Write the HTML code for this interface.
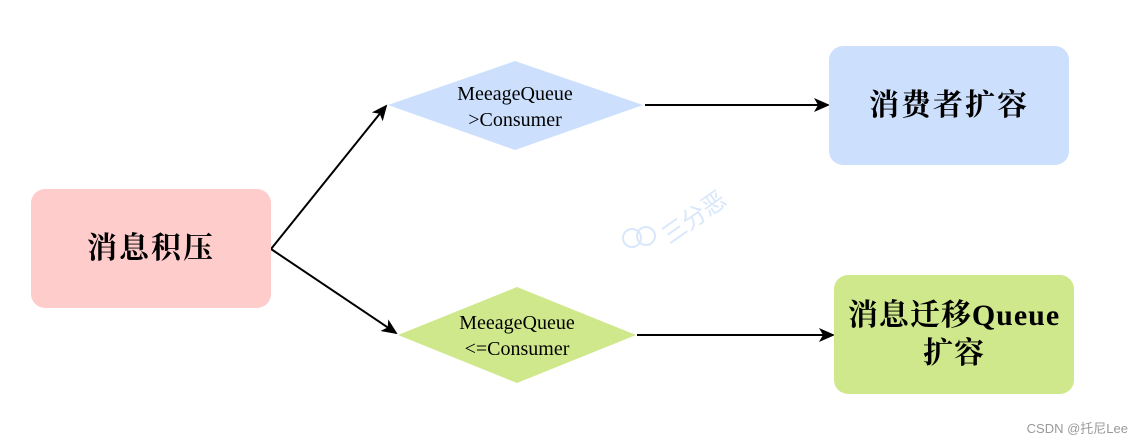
<!DOCTYPE html>
<html><head><meta charset="utf-8"><style>
body{margin:0;background:#fff;width:1138px;height:442px;overflow:hidden;position:relative;font-family:"Liberation Serif","Noto Serif CJK SC",serif}
.box{position:absolute;border-radius:14px;display:flex;align-items:center;justify-content:center;text-align:center;font-weight:bold;font-size:30px;letter-spacing:2px;color:#000;line-height:38px}
.t{position:absolute;text-align:center;font-size:20px;line-height:26px;width:200px}
</style></head><body>
<svg width="1138" height="442" style="position:absolute;left:0;top:0">
<defs><marker id="a" markerWidth="16" markerHeight="14" refX="14" refY="7" orient="auto" markerUnits="userSpaceOnUse"><path d="M0,0 L16,7 L0,14 L4,7z" fill="#000"/></marker></defs>
<polygon points="388,105 515,61 643,105 515,150" fill="#cce0fd"/>
<polygon points="398,335 517,287 636,335 517,383" fill="#cfe88c"/>
<g stroke="#000" stroke-width="2" fill="none">
<line x1="271" y1="249" x2="386" y2="106" marker-end="url(#a)"/>
<line x1="271" y1="249" x2="396" y2="333" marker-end="url(#a)"/>
<line x1="645" y1="105" x2="828" y2="105" marker-end="url(#a)"/>
<line x1="637" y1="335" x2="833" y2="335" marker-end="url(#a)"/>
</g>
<text x="660" y="235" transform="rotate(-35 680 225)" fill="#d8e8fa" font-size="24" font-family="Noto Sans CJK SC,sans-serif">三分恶</text>
<circle cx="632" cy="238" r="9" fill="none" stroke="#d8e8fa" stroke-width="2"/>
<circle cx="646" cy="236" r="9" fill="none" stroke="#d8e8fa" stroke-width="2"/>
</svg>
<div class="box" style="left:31px;top:189px;width:240px;height:119px;background:#ffcccc">消息积压</div>
<div class="box" style="left:829px;top:46px;width:240px;height:119px;background:#cce0fd">消费者扩容</div>
<div class="box" style="left:834px;top:275px;width:240px;height:119px;background:#cfe88c;letter-spacing:1px">消息迁移Queue<br>扩容</div>
<div class="t" style="left:415px;top:81px">MeeageQueue<br>&gt;Consumer</div>
<div class="t" style="left:417px;top:310px">MeeageQueue<br>&lt;=Consumer</div>
<div style="position:absolute;right:10px;top:418px;font-family:'Liberation Sans','Noto Sans CJK SC',sans-serif;font-size:13px;color:#999">CSDN @托尼Lee</div>
</body></html>
